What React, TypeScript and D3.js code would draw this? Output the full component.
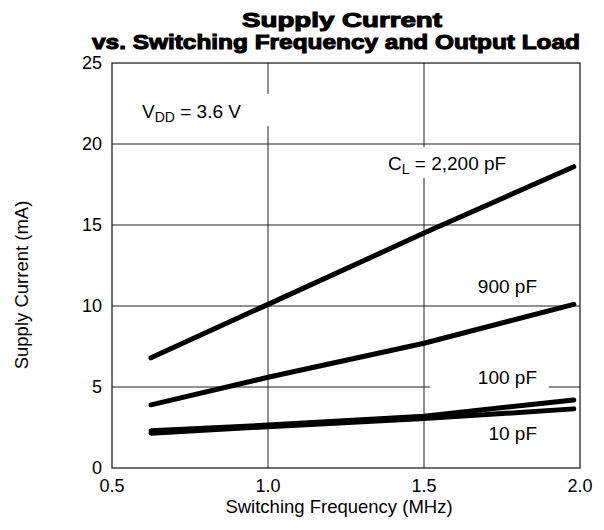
import React from 'react';
import * as d3 from 'd3';

const frequencies = [0.625, 1.0, 1.5, 1.98];
const load2200 = [6.8, 10.1, 14.5, 18.6];
const load900 = [3.9, 5.6, 7.7, 10.1];
const load100 = [2.3, 2.65, 3.2, 4.2];
const load10 = [2.15, 2.55, 3.05, 3.65];
const xTicks = [0.5, 1.0, 1.5, 2.0];
const yTicks = [0, 5, 10, 15, 20, 25];

const series = [
  { name: '2200', values: load2200 },
  { name: '900', values: load900 },
  { name: '100', values: load100 },
  { name: '10', values: load10 },
];

const width = 604;
const height = 530;
const margin = { top: 63, right: 24, bottom: 62, left: 112 };
const font = "'Liberation Sans', Arial, Helvetica, sans-serif";

export default function App() {
  const x = d3.scaleLinear().domain([0.5, 2.0]).range([margin.left, width - margin.right]);
  const y = d3.scaleLinear().domain([0, 25]).range([height - margin.bottom, margin.top]);

  const line = d3
    .line<[number, number]>()
    .x(d => x(d[0]))
    .y(d => y(d[1]));

  const [x0, x1] = x.range();
  const [y0, y1] = y.range();

  return (
    <svg
      width={width}
      height={height}
      style={{ position: 'absolute', left: 0, top: 0, background: '#fff' }}
      fontFamily={font}
    >
      {/* title */}
      <text x={342} y={27} textAnchor="middle" fontSize={21} fontWeight="bold" stroke="#000" strokeWidth={1.1}
        textLength={200} lengthAdjust="spacingAndGlyphs">
        Supply Current
      </text>
      <text x={336} y={49} textAnchor="middle" fontSize={21} fontWeight="bold" stroke="#000" strokeWidth={1.1}
        textLength={488} lengthAdjust="spacingAndGlyphs">
        vs. Switching Frequency and Output Load
      </text>

      {/* grid */}
      {xTicks.slice(1, -1).map(t => (
        <line key={'gx' + t} x1={x(t)} x2={x(t)} y1={y0} y2={y1} stroke="#222" strokeWidth={1} />
      ))}
      {yTicks.slice(1, -1).map(t => (
        <line key={'gy' + t} x1={x0} x2={x1} y1={y(t)} y2={y(t)} stroke="#222" strokeWidth={1} />
      ))}
      <rect x={x0} y={y1} width={x1 - x0} height={y0 - y1} fill="none" stroke="#111" strokeWidth={1.2} />

      {/* label backdrops that break the grid */}
      <rect x={x(0.56)} y={y(23.1)} width={x(1.03) - x(0.56)} height={y(21.1) - y(23.1)} fill="#fff" />
      <rect x={x(1.39)} y={y(19.8)} width={x(1.8) - x(1.39)} height={y(17.9) - y(19.8)} fill="#fff" />
      <rect x={x(1.52)} y={y(5.8)} width={x(1.9) - x(1.52)} height={y(4.3) - y(5.8)} fill="#fff" />

      {/* curves */}
      {series.map(s => (
        <path
          key={s.name}
          d={line(frequencies.map((f, i) => [f, s.values[i]]) as [number, number][]) || ''}
          fill="none"
          stroke="#000"
          strokeWidth={5}
          strokeLinecap="round"
        />
      ))}

      {/* annotations */}
      <text x={142} y={118} fontSize={19}>
        V<tspan fontSize={14} dy={4}>DD</tspan>
        <tspan dy={-4}> = 3.6 V</tspan>
      </text>
      <text x={388} y={170} fontSize={19}>
        C<tspan fontSize={14} dy={4}>L</tspan>
        <tspan dy={-4}> = 2,200 pF</tspan>
      </text>
      <text x={537} y={293} fontSize={19} textAnchor="end">900 pF</text>
      <text x={537} y={384} fontSize={19} textAnchor="end">100 pF</text>
      <text x={537} y={440} fontSize={19} textAnchor="end">10 pF</text>

      {/* axes */}
      {yTicks.map(t => (
        <text key={'ty' + t} x={x0 - 10} y={y(t)} dy="0.36em" textAnchor="end" fontSize={18}>
          {t}
        </text>
      ))}
      {xTicks.map(t => (
        <text key={'tx' + t} x={x(t)} y={y0 + 24} textAnchor="middle" fontSize={18}>
          {t.toFixed(1)}
        </text>
      ))}
      <text x={339} y={y0 + 45} textAnchor="middle" fontSize={18.5}>
        Switching Frequency (MHz)
      </text>
      <text transform={`translate(28,285) rotate(-90)`} textAnchor="middle" fontSize={18.5}>
        Supply Current (mA)
      </text>
    </svg>
  );
}
